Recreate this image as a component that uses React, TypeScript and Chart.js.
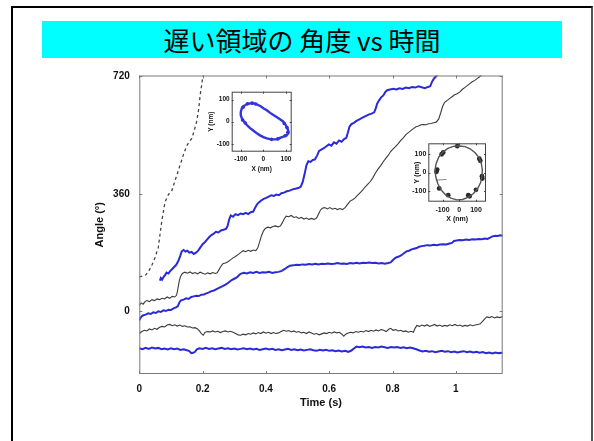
import React, { useEffect, useRef } from "react";
import { Chart, registerables } from "chart.js";

Chart.register(...registerables);

// ---------------- data ----------------
const titleText = "遅い領域の 角度 vs 時間";
const timeTicks = [0, 0.2, 0.4, 0.6, 0.8, 1];
const angleTicks = [0, 360, 720];
const nmTicks = [-100, 0, 100];

// [time (s), angle (deg)]
const steepBlack: [number, number][] = [[0,106],[0.01,108],[0.021,112],[0.03,124],[0.039,140],[0.05,166],[0.06,196],[0.066,240],[0.071,276],[0.076,306],[0.081,334],[0.087,348],[0.092,358],[0.097,364],[0.102,368],[0.11,392],[0.12,422],[0.129,449],[0.14,482],[0.15,508],[0.158,520],[0.166,530],[0.174,556],[0.181,581],[0.187,615],[0.192,660],[0.197,694],[0.202,730]];

const upperBlue: [number, number][] = [[0.065,94],[0.068,102],[0.072,97],[0.077,106],[0.082,112],[0.086,119],[0.092,116],[0.098,124],[0.104,130],[0.11,136],[0.116,142],[0.122,152],[0.128,166],[0.134,184],[0.14,188],[0.146,183],[0.152,186],[0.158,180],[0.165,182],[0.172,176],[0.179,180],[0.186,186],[0.193,196],[0.2,206],[0.207,212],[0.214,220],[0.221,228],[0.228,234],[0.235,238],[0.242,244],[0.25,242],[0.258,248],[0.266,250],[0.274,253],[0.279,262],[0.284,282],[0.289,294],[0.296,290],[0.304,298],[0.312,295],[0.32,300],[0.328,298],[0.336,302],[0.344,298],[0.352,304],[0.36,306],[0.366,318],[0.372,328],[0.378,334],[0.385,340],[0.393,345],[0.401,348],[0.409,352],[0.417,356],[0.425,354],[0.433,358],[0.441,356],[0.449,362],[0.457,364],[0.466,368],[0.475,370],[0.484,374],[0.493,376],[0.502,378],[0.51,382],[0.516,396],[0.522,420],[0.528,448],[0.534,460],[0.541,458],[0.548,464],[0.555,466],[0.562,478],[0.568,492],[0.575,496],[0.583,500],[0.591,506],[0.599,512],[0.607,508],[0.615,518],[0.623,514],[0.631,524],[0.639,520],[0.647,528],[0.654,532],[0.659,548],[0.664,566],[0.67,574],[0.678,578],[0.686,584],[0.694,588],[0.702,592],[0.71,596],[0.718,600],[0.726,604],[0.734,606],[0.742,610],[0.747,622],[0.751,636],[0.757,646],[0.764,656],[0.771,662],[0.777,672],[0.783,678],[0.792,680],[0.802,682],[0.812,680],[0.822,684],[0.832,682],[0.842,686],[0.852,684],[0.862,688],[0.872,686],[0.882,690],[0.892,687],[0.902,684],[0.912,688],[0.919,690],[0.925,704],[0.931,714],[0.937,720],[0.944,728]];

const middleBlack: [number, number][] = [[0,18],[0.006,26],[0.012,22],[0.018,30],[0.024,33],[0.032,30],[0.04,36],[0.048,33],[0.056,38],[0.064,36],[0.072,40],[0.08,38],[0.088,44],[0.096,40],[0.104,46],[0.112,44],[0.118,50],[0.122,70],[0.126,92],[0.13,106],[0.136,116],[0.144,120],[0.152,117],[0.16,121],[0.168,116],[0.176,119],[0.184,115],[0.192,120],[0.2,117],[0.208,114],[0.216,118],[0.224,115],[0.232,119],[0.24,116],[0.246,118],[0.252,128],[0.258,138],[0.264,146],[0.272,148],[0.28,152],[0.288,158],[0.296,164],[0.304,168],[0.312,174],[0.32,180],[0.328,186],[0.336,183],[0.344,187],[0.352,184],[0.36,188],[0.368,186],[0.374,194],[0.38,212],[0.386,232],[0.392,246],[0.398,254],[0.406,258],[0.414,256],[0.422,260],[0.43,262],[0.438,259],[0.446,262],[0.452,272],[0.458,284],[0.464,292],[0.472,290],[0.48,294],[0.488,288],[0.496,290],[0.504,285],[0.512,288],[0.52,283],[0.528,286],[0.536,282],[0.544,285],[0.552,282],[0.56,286],[0.566,298],[0.572,310],[0.578,316],[0.586,318],[0.594,314],[0.602,318],[0.61,313],[0.618,316],[0.626,312],[0.634,315],[0.642,312],[0.65,318],[0.658,328],[0.666,338],[0.674,342],[0.682,348],[0.69,356],[0.698,364],[0.706,372],[0.714,382],[0.722,390],[0.73,398],[0.738,410],[0.746,424],[0.754,436],[0.762,446],[0.77,458],[0.778,468],[0.786,478],[0.794,490],[0.802,498],[0.81,506],[0.818,514],[0.826,524],[0.834,532],[0.842,542],[0.85,548],[0.858,554],[0.866,560],[0.874,566],[0.882,568],[0.89,572],[0.898,573],[0.906,572],[0.914,575],[0.922,576],[0.93,578],[0.938,580],[0.946,590],[0.952,608],[0.958,628],[0.964,640],[0.972,646],[0.98,652],[0.988,658],[0.996,664],[1.004,667],[1.012,672],[1.02,680],[1.028,686],[1.036,692],[1.044,698],[1.052,704],[1.06,708],[1.068,714],[1.076,720],[1.084,728]];

const middleBlue: [number, number][] = [[0,-27],[0.004,-20],[0.008,-15],[0.013,-12],[0.02,-10],[0.028,-6],[0.036,-8],[0.044,-3],[0.052,-5],[0.06,0],[0.068,-2],[0.076,3],[0.084,1],[0.092,5],[0.1,4],[0.108,9],[0.116,12],[0.122,16],[0.127,28],[0.132,34],[0.14,36],[0.148,40],[0.156,38],[0.164,44],[0.172,46],[0.18,48],[0.188,47],[0.196,51],[0.204,52],[0.212,55],[0.22,58],[0.228,62],[0.236,64],[0.244,68],[0.252,72],[0.26,76],[0.268,80],[0.276,84],[0.284,90],[0.292,96],[0.3,100],[0.308,104],[0.314,110],[0.32,115],[0.33,118],[0.34,116],[0.35,120],[0.36,118],[0.37,121],[0.38,118],[0.39,120],[0.4,119],[0.41,121],[0.42,118],[0.43,120],[0.44,121],[0.45,124],[0.46,130],[0.468,136],[0.476,140],[0.486,141],[0.496,143],[0.506,142],[0.516,144],[0.526,143],[0.536,145],[0.546,144],[0.556,146],[0.566,144],[0.576,146],[0.586,145],[0.596,147],[0.606,145],[0.616,146],[0.626,148],[0.636,146],[0.646,147],[0.656,145],[0.666,148],[0.676,147],[0.686,149],[0.696,147],[0.706,149],[0.716,148],[0.726,150],[0.736,148],[0.746,149],[0.756,147],[0.766,148],[0.776,146],[0.786,148],[0.794,150],[0.8,156],[0.806,162],[0.813,166],[0.82,168],[0.828,172],[0.836,178],[0.844,184],[0.852,186],[0.86,190],[0.868,192],[0.876,194],[0.884,198],[0.892,200],[0.9,201],[0.91,203],[0.92,202],[0.93,204],[0.94,203],[0.95,205],[0.96,206],[0.97,205],[0.98,208],[0.988,210],[0.994,216],[1.002,217],[1.012,219],[1.022,218],[1.032,220],[1.042,219],[1.052,221],[1.062,220],[1.072,222],[1.082,221],[1.092,223],[1.1,222],[1.108,226],[1.116,230],[1.124,232],[1.132,231],[1.14,233],[1.148,232]];

const lowerBlack: [number, number][] = [[0,-68],[0.008,-62],[0.016,-58],[0.024,-60],[0.032,-54],[0.04,-57],[0.048,-52],[0.056,-55],[0.064,-49],[0.072,-46],[0.08,-48],[0.088,-42],[0.096,-40],[0.104,-44],[0.112,-41],[0.12,-45],[0.128,-42],[0.136,-46],[0.144,-44],[0.152,-48],[0.16,-47],[0.168,-51],[0.176,-50],[0.184,-54],[0.19,-60],[0.196,-68],[0.202,-73],[0.208,-64],[0.216,-62],[0.224,-63],[0.232,-60],[0.24,-63],[0.248,-61],[0.256,-65],[0.264,-62],[0.272,-60],[0.28,-63],[0.288,-61],[0.296,-64],[0.304,-68],[0.312,-72],[0.32,-73],[0.328,-70],[0.336,-72],[0.344,-68],[0.352,-70],[0.36,-66],[0.368,-69],[0.376,-65],[0.384,-68],[0.392,-63],[0.4,-67],[0.408,-64],[0.416,-68],[0.424,-65],[0.432,-68],[0.44,-66],[0.448,-62],[0.456,-58],[0.464,-61],[0.472,-59],[0.48,-63],[0.488,-60],[0.496,-64],[0.504,-62],[0.512,-66],[0.52,-64],[0.528,-68],[0.536,-63],[0.544,-66],[0.552,-70],[0.56,-68],[0.568,-72],[0.576,-69],[0.584,-66],[0.592,-68],[0.6,-64],[0.608,-67],[0.616,-63],[0.624,-66],[0.632,-64],[0.64,-70],[0.646,-76],[0.652,-70],[0.66,-66],[0.668,-64],[0.676,-66],[0.684,-62],[0.692,-64],[0.7,-61],[0.708,-63],[0.716,-59],[0.724,-62],[0.732,-58],[0.74,-61],[0.748,-57],[0.756,-60],[0.764,-56],[0.772,-58],[0.78,-62],[0.788,-55],[0.794,-52],[0.802,-58],[0.81,-56],[0.818,-60],[0.826,-58],[0.834,-62],[0.842,-60],[0.85,-64],[0.858,-61],[0.866,-64],[0.871,-52],[0.877,-43],[0.885,-46],[0.893,-42],[0.901,-45],[0.909,-41],[0.917,-46],[0.925,-43],[0.933,-40],[0.941,-45],[0.949,-42],[0.957,-46],[0.965,-43],[0.973,-45],[0.981,-41],[0.989,-44],[0.997,-40],[1.005,-44],[1.013,-42],[1.021,-46],[1.029,-43],[1.037,-45],[1.045,-41],[1.053,-44],[1.061,-42],[1.069,-40],[1.077,-38],[1.085,-30],[1.092,-22],[1.098,-17],[1.106,-19],[1.114,-16],[1.122,-20],[1.13,-17],[1.138,-19],[1.148,-16]];

const lowerBlue: [number, number][] = [[0,-113],[0.01,-116],[0.02,-112],[0.03,-115],[0.04,-111],[0.05,-114],[0.06,-112],[0.07,-116],[0.08,-114],[0.09,-117],[0.1,-113],[0.11,-116],[0.12,-114],[0.13,-118],[0.14,-116],[0.15,-119],[0.158,-122],[0.164,-128],[0.17,-127],[0.176,-124],[0.182,-116],[0.19,-113],[0.2,-115],[0.21,-112],[0.22,-115],[0.23,-113],[0.24,-116],[0.25,-114],[0.26,-112],[0.27,-115],[0.28,-113],[0.29,-116],[0.3,-114],[0.31,-117],[0.32,-115],[0.33,-113],[0.34,-116],[0.35,-114],[0.36,-117],[0.37,-115],[0.38,-118],[0.39,-116],[0.4,-114],[0.41,-117],[0.42,-115],[0.43,-118],[0.44,-116],[0.45,-119],[0.46,-117],[0.47,-115],[0.48,-118],[0.49,-116],[0.5,-119],[0.51,-117],[0.52,-120],[0.53,-118],[0.54,-116],[0.55,-119],[0.56,-121],[0.57,-118],[0.58,-120],[0.59,-118],[0.6,-121],[0.61,-119],[0.62,-122],[0.63,-120],[0.64,-123],[0.65,-121],[0.66,-124],[0.67,-120],[0.678,-114],[0.686,-108],[0.695,-110],[0.705,-108],[0.715,-111],[0.725,-109],[0.735,-112],[0.745,-109],[0.755,-111],[0.765,-108],[0.775,-110],[0.785,-112],[0.795,-109],[0.805,-111],[0.815,-109],[0.825,-112],[0.835,-110],[0.845,-113],[0.855,-111],[0.865,-113],[0.875,-116],[0.885,-120],[0.895,-123],[0.905,-121],[0.915,-124],[0.925,-122],[0.935,-125],[0.945,-123],[0.955,-121],[0.965,-124],[0.975,-122],[0.985,-125],[0.995,-123],[1.005,-126],[1.015,-124],[1.025,-122],[1.035,-125],[1.045,-123],[1.055,-126],[1.065,-124],[1.075,-127],[1.085,-125],[1.095,-128],[1.105,-126],[1.115,-129],[1.125,-126],[1.135,-128],[1.148,-127]];

// insets: [x (nm), y (nm)]
const ellipseTrack: [number, number][] = [[-100,45],[-95,61],[-85,72],[-73,80],[-58,83],[-44,84],[-28,78],[-12,70],[0,61],[15,52],[30,40],[44,30],[60,20],[75,10],[88,0],[98,-14],[106,-30],[110,-42],[110,-53],[102,-62],[88,-68],[70,-75],[55,-80],[44,-80],[30,-79],[15,-76],[0,-70],[-15,-62],[-29,-53],[-45,-40],[-60,-28],[-73,-15],[-85,0],[-95,15],[-100,30],[-100,45]];
const ellipseDense: [number, number][] = [[-90,66],[-70,81],[-50,84],[-34,80],[92,-8],[104,-26],[108,-48],[96,-64],[64,-78],[36,-80],[-80,-6],[-92,8]];

const circleTrack: [number, number][] = [[0,145],[35,142],[65,130],[95,108],[118,82],[132,50],[138,15],[136,-20],[128,-55],[110,-88],[85,-115],[55,-135],[20,-148],[-15,-150],[-50,-140],[-82,-122],[-108,-96],[-128,-62],[-140,-25],[-145,12],[-138,50],[-122,85],[-98,112],[-68,132],[-35,143],[0,145]];
const circleDense: [number, number][] = [[-105,100],[-96,110],[120,76],[126,64],[138,-33],[136,-20],[54,-124],[62,-130],[-132,16],[-136,4],[-12,144],[-66,-124],[-120,-87],[100,-95]];
const circleTail: [number, number][] = [[-140,-42],[-108,-40],[-76,-38]];

// ---------------- helpers ----------------
const pts = (arr: [number, number][]) => arr.map(([x, y]) => ({ x, y }));
const fixedTicks = (vals: number[]) => (s: any) => {
  s.ticks = vals.map((v) => ({ value: v }));
};

const frameTicks = {
  id: "frameTicks",
  beforeDatasetsDraw(chart: any, _a: any, opts: any) {
    const { ctx, chartArea: ca } = chart;
    if (opts.background) {
      ctx.save();
      ctx.fillStyle = opts.background;
      ctx.fillRect(ca.left, ca.top, ca.right - ca.left, ca.bottom - ca.top);
      ctx.restore();
    }
  },
  afterDatasetsDraw(chart: any, _a: any, opts: any) {
    const { ctx, chartArea: ca, scales } = chart;
    const xs = scales.x;
    const ys = scales.y;
    ctx.save();
    ctx.strokeStyle = opts.color;
    ctx.lineWidth = 1;
    ctx.strokeRect(ca.left + 0.5, ca.top + 0.5, ca.right - ca.left - 1, ca.bottom - ca.top - 1);
    ctx.beginPath();
    const L = opts.len;
    for (const v of opts.xTicks) {
      const p = Math.round(xs.getPixelForValue(v)) + 0.5;
      ctx.moveTo(p, ca.bottom);
      ctx.lineTo(p, ca.bottom - L);
      ctx.moveTo(p, ca.top);
      ctx.lineTo(p, ca.top + L);
    }
    for (const v of opts.yTicks) {
      const p = Math.round(ys.getPixelForValue(v)) + 0.5;
      ctx.moveTo(ca.left, p);
      ctx.lineTo(ca.left + L, p);
      ctx.moveTo(ca.right, p);
      ctx.lineTo(ca.right - L, p);
    }
    ctx.stroke();
    ctx.restore();
  },
};

const FONT = "'Liberation Sans', Arial, sans-serif";
const BLUE = "#2a2ad8";
const BLACK = "#3a3a3a";

function mainConfig(): any {
  const line = (data: [number, number][], color: string, width: number, dash: number[] = []) => ({
    data: pts(data),
    borderColor: color,
    borderWidth: width,
    borderDash: dash,
    pointRadius: 0,
    fill: false,
    tension: 0,
  });
  return {
    type: "line",
    data: {
      datasets: [
        line(lowerBlue, BLUE, 2),
        line(middleBlue, BLUE, 2),
        line(upperBlue, BLUE, 2),
        line(lowerBlack, BLACK, 1.1),
        line(middleBlack, BLACK, 1.1),
        line(steepBlack, "#444444", 1.3, [3, 3]),
      ],
    },
    plugins: [frameTicks],
    options: {
      responsive: false,
      animation: false,
      events: [],
      layout: { padding: { left: 0, top: 13.5, right: 17.3, bottom: 0 } },
      plugins: {
        legend: { display: false },
        tooltip: { enabled: false },
        frameTicks: { color: "#7a7a7a", len: 3, xTicks: timeTicks, yTicks: angleTicks },
      },
      scales: {
        x: {
          type: "linear",
          min: 0,
          max: 1.148,
          afterBuildTicks: fixedTicks(timeTicks),
          afterFit: (s: any) => { s.height = 41; },
          grid: { display: false, drawTicks: false },
          border: { display: false },
          ticks: { color: "#111", padding: 9, font: { family: FONT, size: 10, weight: "bold" }, callback: (v: any) => String(v), maxRotation: 0 },
          title: { display: true, text: "Time (s)", color: "#111", font: { family: FONT, size: 11, weight: "bold" }, padding: { top: 0, bottom: 5.7 } },
        },
        y: {
          type: "linear",
          min: -192,
          max: 723,
          afterBuildTicks: fixedTicks(angleTicks),
          afterFit: (s: any) => { s.width = 59.3; },
          grid: { display: false, drawTicks: false },
          border: { display: false },
          ticks: { color: "#111", padding: 9.5, font: { family: FONT, size: 10, weight: "bold" }, callback: (v: any) => String(v) },
          title: { display: true, text: "Angle (°)", color: "#111", font: { family: FONT, size: 11, weight: "bold" }, padding: { top: 13.4, bottom: 0 } },
        },
      },
    },
  };
}

function insetConfig(o: any): any {
  return {
    type: "scatter",
    data: {
      datasets: [
        { data: pts(o.track), showLine: true, borderColor: o.lineColor, borderWidth: o.width, pointRadius: 0, tension: 0 },
        { data: pts(o.dense), showLine: false, backgroundColor: o.color, borderWidth: 0, pointRadius: o.dot },
        ...(o.tail ? [{ data: pts(o.tail), showLine: true, borderColor: "#888", borderWidth: 1, pointRadius: 0 }] : []),
      ],
    },
    plugins: [frameTicks],
    options: {
      responsive: false,
      animation: false,
      events: [],
      layout: { padding: { left: 0, top: o.top, right: o.right, bottom: 0 } },
      plugins: {
        legend: { display: false },
        tooltip: { enabled: false },
        frameTicks: { color: "#444", len: 2, xTicks: nmTicks, yTicks: nmTicks, background: "#ffffff" },
      },
      scales: {
        x: {
          type: "linear",
          min: o.xMin,
          max: o.xMax,
          afterBuildTicks: fixedTicks(nmTicks),
          afterFit: (s: any) => { s.height = o.xH; },
          grid: { display: false, drawTicks: false },
          border: { display: false },
          ticks: { color: "#111", padding: o.xPad, font: { family: FONT, size: o.fs, weight: "bold" }, maxRotation: 0, autoSkip: false },
          title: { display: true, text: "X (nm)", color: "#111", font: { family: FONT, size: o.fs, weight: "bold" }, padding: { top: 0, bottom: o.xTitlePad } },
        },
        y: {
          type: "linear",
          min: o.yMin,
          max: o.yMax,
          afterBuildTicks: fixedTicks(nmTicks),
          afterFit: (s: any) => { s.width = o.yW; },
          grid: { display: false, drawTicks: false },
          border: { display: false },
          ticks: { color: "#111", padding: 2, font: { family: FONT, size: o.fs, weight: "bold" }, autoSkip: false },
          title: { display: true, text: "Y (nm)", color: "#111", font: { family: FONT, size: o.fs, weight: "bold" }, padding: { top: o.yTitlePad, bottom: 0 } },
        },
      },
    },
  };
}

export default function App() {
  const mainRef = useRef<HTMLCanvasElement>(null);
  const in1Ref = useRef<HTMLCanvasElement>(null);
  const in2Ref = useRef<HTMLCanvasElement>(null);

  useEffect(() => {
    const charts: Chart[] = [];
    charts.push(new Chart(mainRef.current as HTMLCanvasElement, mainConfig()));
    charts.push(
      new Chart(
        in1Ref.current as HTMLCanvasElement,
        insetConfig({
          track: ellipseTrack, dense: ellipseDense, color: BLUE, lineColor: "#3434dc", width: 2.4, dot: 1.8,
          xMin: -140, xMax: 125, yMin: -136, yMax: 136,
          top: 7.7, right: 8.3, xH: 32.3, yW: 31.7, fs: 6.5, xPad: 4, xTitlePad: 10.5, yTitlePad: 7.5,
        })
      )
    );
    charts.push(
      new Chart(
        in2Ref.current as HTMLCanvasElement,
        insetConfig({
          track: circleTrack, dense: circleDense, tail: circleTail, color: "#2a2a2a", lineColor: "#555", width: 1.4, dot: 2.4,
          xMin: -185, xMax: 160, yMin: -160, yMax: 160,
          top: 8.3, right: 4, xH: 33.3, yW: 38.3, fs: 7, xPad: 4, xTitlePad: 11.5, yTitlePad: 22.5,
        })
      )
    );
    return () => charts.forEach((c) => c.destroy());
  }, []);

  return (
    <div style={{ position: "fixed", left: 0, top: 0, width: 594, height: 441, overflow: "hidden", background: "#fff" }}>
      <div
        style={{
          position: "absolute", left: 11, top: 6, width: 582, height: 520, boxSizing: "border-box",
          borderLeft: "2px solid #000", borderTop: "2px solid #000", borderRight: "2px solid #555",
        }}
      />
      <div
        style={{
          position: "absolute", left: 42, top: 21, width: 520, height: 37, background: "#00ffff",
          display: "flex", alignItems: "center", justifyContent: "center",
          fontFamily: "'Noto Sans CJK JP', sans-serif", fontSize: 26, color: "#000", whiteSpace: "pre",
        }}
      >
        {titleText}
      </div>
      <canvas ref={mainRef} width={440} height={355} style={{ position: "absolute", left: 80, top: 60 }} />
      <canvas ref={in1Ref} width={100} height={100} style={{ position: "absolute", left: 200, top: 84 }} />
      <canvas ref={in2Ref} width={100} height={100} style={{ position: "absolute", left: 390, top: 135 }} />
    </div>
  );
}
